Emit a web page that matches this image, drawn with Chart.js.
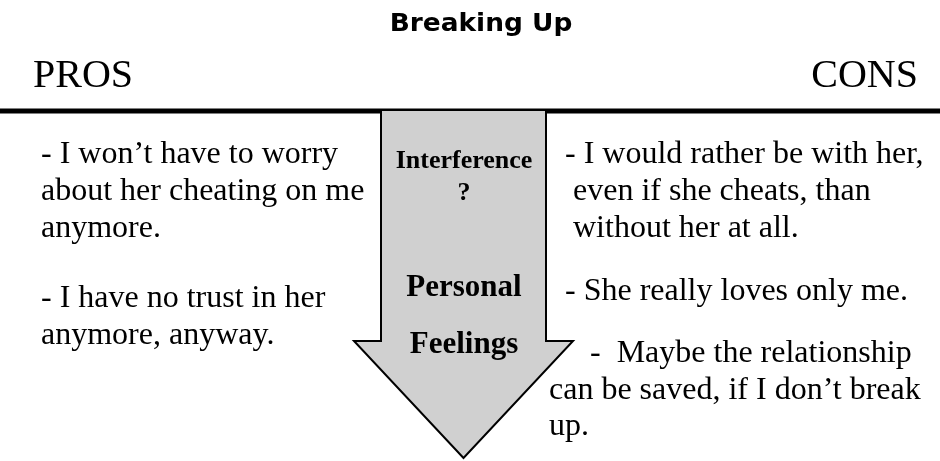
<!DOCTYPE html>
<html>
<head>
<meta charset="utf-8">
<title>Breaking Up</title>
<script src="https://cdn.jsdelivr.net/npm/chart.js@4/dist/chart.umd.min.js"></script>
<style>
    body { margin: 0; background: #fff; }
    canvas { display: block; background: #fff; }
</style>
</head>
<body>
<canvas id="diagram" width="940" height="461"></canvas>
<script>
// values (page units = pixels of the original)
const titleText = 'Breaking Up';
const headings = ['PROS', 'CONS'];
const prosLines = [
    '- I won\u2019t have to worry',
    'about her cheating on me',
    'anymore.',
    '- I have no trust in her',
    'anymore, anyway.'
];
const consLines = [
    '- I would rather be with her,',
    'even if she cheats, than',
    'without her at all.',
    '- She really loves only me.',
    '-  Maybe the relationship',
    'can be saved, if I don\u2019t break',
    'up.'
];
const arrowLabels = ['Interference', '?', 'Personal', 'Feelings'];

// arrow outline and the heavy rule, in page units
const arrowX = [381, 546, 546, 573, 463.5, 354, 381, 381];
const arrowY = [110, 110, 341, 341, 458, 341, 341, 110];
const ruleX = [0, 940];
const ruleY = [111, 111];

// where each text sits (x, baseline)
const prosPos = [[41, 163], [41, 200], [41, 237], [41, 307], [41, 344]];
const consPos = [[565, 163], [573, 200], [573, 237], [565, 300], [590, 362], [549, 399], [549, 435]];
const arrowPos = [[464, 168], [464, 200], [464, 296], [464, 353]];

const serif = '"Liberation Serif", "Times New Roman", serif';

function toPoints(xs, ys) {
    return xs.map((x, i) => ({ x: x, y: ys[i] }));
}

// fill the arrow shape under its outline
const arrowFill = {
    id: 'arrowFill',
    beforeDatasetDraw(chart, args) {
        if (args.index !== 0) return;
        const pts = args.meta.data;
        const c = chart.ctx;
        c.save();
        c.beginPath();
        pts.forEach((p, i) => (i ? c.lineTo(p.x, p.y) : c.moveTo(p.x, p.y)));
        c.closePath();
        c.fillStyle = '#d0d0d0';
        c.fill();
        c.restore();
    }
};

const labels = {
    id: 'labels',
    afterDraw(chart) {
        const c = chart.ctx;
        const sx = chart.scales.x, sy = chart.scales.y;
        const put = (text, x, y, font, align, stretch) => {
            c.save();
            c.font = font;
            c.textAlign = align;
            c.textBaseline = 'alphabetic';
            c.fillStyle = '#000';
            c.translate(sx.getPixelForValue(x), sy.getPixelForValue(y));
            c.scale(stretch || 1, 1);
            c.fillText(text, 0, 0);
            c.restore();
        };

        put(titleText, 481, 31, 'bold 24px "DejaVu Sans", sans-serif', 'center', 1.1);
        put(headings[0], 33, 87, '40px ' + serif, 'left');
        put(headings[1], 918, 87, '40px ' + serif, 'right');

        prosLines.forEach((t, i) => put(t, prosPos[i][0], prosPos[i][1], '32px ' + serif, 'left'));
        consLines.forEach((t, i) => put(t, consPos[i][0], consPos[i][1], '32px ' + serif, 'left'));

        put(arrowLabels[0], arrowPos[0][0], arrowPos[0][1], 'bold 26px ' + serif, 'center');
        put(arrowLabels[1], arrowPos[1][0], arrowPos[1][1], 'bold 26px ' + serif, 'center');
        put(arrowLabels[2], arrowPos[2][0], arrowPos[2][1], 'bold 31px ' + serif, 'center');
        put(arrowLabels[3], arrowPos[3][0], arrowPos[3][1], 'bold 31px ' + serif, 'center');
    }
};

new Chart(document.getElementById('diagram').getContext('2d'), {
    type: 'scatter',
    data: {
        datasets: [
            {
                label: 'arrow',
                data: toPoints(arrowX, arrowY),
                showLine: true,
                borderColor: '#000',
                borderWidth: 2,
                borderJoinStyle: 'miter',
                pointRadius: 0,
                tension: 0
            },
            {
                label: 'rule',
                data: toPoints(ruleX, ruleY),
                showLine: true,
                borderColor: '#000',
                borderWidth: 5,
                pointRadius: 0
            }
        ]
    },
    options: {
        responsive: false,
        animation: false,
        events: [],
        layout: { padding: 0 },
        plugins: {
            legend: { display: false },
            tooltip: { enabled: false }
        },
        scales: {
            x: { type: 'linear', display: false, min: 0, max: 940 },
            y: { type: 'linear', display: false, min: 0, max: 461, reverse: true }
        }
    },
    plugins: [arrowFill, labels]
});
</script>
</body>
</html>
